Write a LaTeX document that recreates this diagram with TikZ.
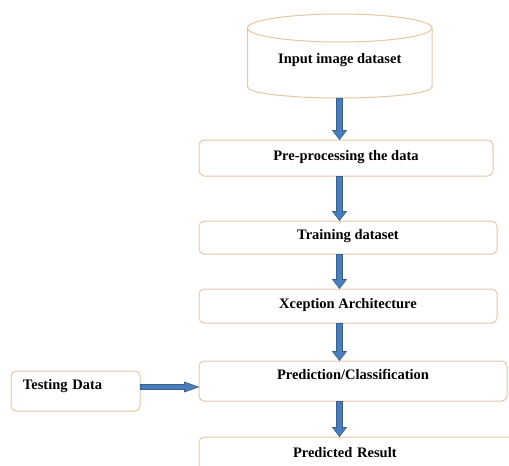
\documentclass[tikz,border=0pt]{standalone}
\usepackage{fontspec}
\setmainfont{Liberation Serif}
\usetikzlibrary{calc}

\definecolor{boxline}{RGB}{230,198,165}
\definecolor{flowfill}{RGB}{74,126,187}
\definecolor{flowedge}{RGB}{56,94,142}

\tikzset{
  stage/.style={draw=boxline, line width=1pt, rounded corners=5pt, fill=white,
    inner sep=0pt, font=\bfseries\fontsize{14.5}{16}\selectfont, text height=10pt},
  flow/.style={fill=flowfill, draw=flowedge, line width=0.6pt, line join=miter}
}

% block arrow pointing down, on the spine, from the bottom of #1 to the top of #2
\newcommand\flowdown[2]{%
  \path[flow] let \p1=(#1.south -| spine), \p2=(#2.north -| spine) in
    (\x1-3pt,\y1) -- (\x1-3pt,\y2+9pt) -- (\x1-7pt,\y2+9pt) -- (\x1,\y2)
    -- (\x1+7pt,\y2+9pt) -- (\x1+3pt,\y2+9pt) -- (\x1+3pt,\y1) -- cycle;}

\begin{document}
\begin{tikzpicture}[x=1pt,y=-1pt]
  \useasboundingbox (0,0) rectangle (509,466);
  \clip (0,0) rectangle (509,466);

  \coordinate (spine) at (339.5,0);

  % data store
  \node[inner sep=0pt, minimum width=184.5pt, minimum height=84pt,
        font=\bfseries\fontsize{14.5}{16}\selectfont, text height=16pt, text depth=1pt]
        (cyl) at (339.75,56) {Input image dataset};
  \draw[boxline, line width=1pt] (247.5,28) -- (247.5,87)
    arc[start angle=180, end angle=360, x radius=92.25pt, y radius=11pt] -- (432,28);
  \draw[boxline, line width=1pt] (339.75,28) ellipse[x radius=92.25pt, y radius=14pt];

  % processing stages
  \node[stage, minimum width=294pt, minimum height=36pt, text depth=6pt]
    (pre) at (346,158) {Pre-processing the data};
  \node[stage, minimum width=298pt, minimum height=33pt, text depth=7pt]
    (train) at (348,237.5) {Training dataset};
  \node[stage, minimum width=298pt, minimum height=34pt, text depth=6pt]
    (xcep) at (348,306) {Xception Architecture};
  \node[stage, minimum width=308pt, minimum height=40pt, text depth=14pt]
    (pred) at (353,381) {Prediction/Classification};
  \node[stage, minimum width=129pt, minimum height=40pt, text depth=13pt,
        text width=129pt, align=left]
    (test) at (75.5,391) {\hspace*{12pt}Testing Data};
  \node[stage, minimum width=321pt, minimum height=44pt, text depth=13pt,
        text width=321pt, align=left]
    (res) at (359.5,459) {\hspace*{94pt}Predicted Result};

  % flow arrows
  \flowdown{cyl}{pre}
  \flowdown{pre}{train}
  \flowdown{train}{xcep}
  \flowdown{xcep}{pred}
  \flowdown{pred}{res}

  \path[flow] let \p1=($(test.east)+(0,-4)$), \p2=(pred.west) in
    (\x1,\y1-2.5pt) -- (\x2-14pt,\y1-2.5pt) -- (\x2-14pt,\y1-5pt) -- (\x2,\y1)
    -- (\x2-14pt,\y1+5pt) -- (\x2-14pt,\y1+2.5pt) -- (\x1,\y1+2.5pt) -- cycle;
\end{tikzpicture}
\end{document}
